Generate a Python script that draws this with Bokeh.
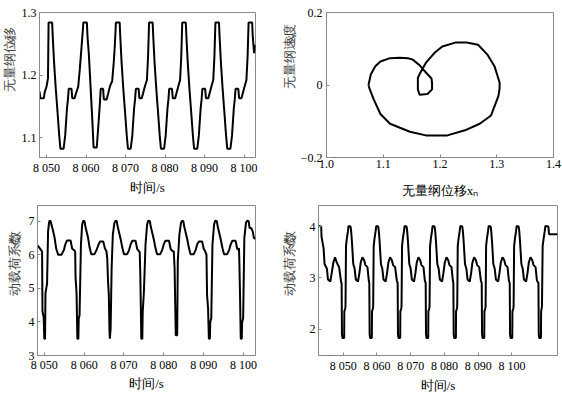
import math
from bokeh.plotting import figure
from bokeh.models import Range1d, FixedTicker, Label
from bokeh.layouts import column, row
from bokeh.embed import file_html
from bokeh.resources import INLINE

FONT = "Liberation Serif"

# ---------------- data ----------------
time_ticks = [8050, 8060, 8070, 8080, 8090, 8100]
time_tick_labels = ["8 050", "8 060", "8 070", "8 080", "8 090", "8 100"]

# (a) dimensionless displacement vs time
t_a = [8048.2, 8048.4, 8049.3, 8049.5, 8050.0, 8050.35, 8050.5, 8051.4, 8051.55, 8051.9,
       8052.3, 8052.75, 8053.2, 8053.5, 8054.3, 8054.7, 8055.15, 8055.4, 8055.6, 8056.3,
       8056.5, 8057.1, 8057.4, 8058.0, 8058.4, 8058.85, 8059.2, 8059.3, 8060.2, 8060.35,
       8060.7, 8061.1, 8061.5, 8061.9, 8062.7, 8063.0, 8063.5, 8063.7, 8064.3, 8064.5,
       8065.2, 8065.5, 8066.1, 8066.6, 8067.0, 8067.3, 8067.55, 8068.5, 8068.65, 8069.0,
       8069.4, 8069.85, 8070.3, 8070.6, 8071.3, 8071.7, 8072.15, 8072.4, 8072.6, 8073.3,
       8073.5, 8074.1, 8074.4, 8074.9, 8075.4, 8075.7, 8075.95, 8076.85, 8077.0, 8077.35,
       8077.75, 8078.2, 8078.65, 8078.95, 8079.75, 8080.15, 8080.6, 8080.85, 8081.05, 8081.75,
       8081.95, 8082.55, 8082.85, 8083.35, 8083.8, 8084.1, 8084.35, 8085.25, 8085.4, 8085.75,
       8086.15, 8086.6, 8087.05, 8087.35, 8088.15, 8088.55, 8089.0, 8089.25, 8089.45, 8090.15,
       8090.35, 8090.95, 8091.25, 8091.75, 8092.2, 8092.5, 8092.75, 8093.65, 8093.8, 8094.15,
       8094.55, 8095.0, 8095.45, 8095.75, 8096.55, 8096.95, 8097.4, 8097.65, 8097.85, 8098.55,
       8098.75, 8099.35, 8099.65, 8100.15, 8100.6, 8100.9, 8101.15, 8102.05, 8102.2, 8102.55,
       8102.9]
x_a = [1.174, 1.163, 1.163, 1.172, 1.182, 1.195, 1.284, 1.284, 1.262, 1.219,
       1.180, 1.142, 1.103, 1.082, 1.082, 1.103, 1.146, 1.161, 1.178, 1.178,
       1.163, 1.163, 1.170, 1.181, 1.209, 1.245, 1.274, 1.284, 1.284, 1.262,
       1.233, 1.185, 1.137, 1.084, 1.084, 1.110, 1.155, 1.178, 1.178, 1.161,
       1.161, 1.168, 1.183, 1.190, 1.220, 1.250, 1.284, 1.284, 1.262, 1.219,
       1.180, 1.142, 1.103, 1.082, 1.082, 1.103, 1.146, 1.161, 1.178, 1.178,
       1.163, 1.163, 1.170, 1.182, 1.192, 1.230, 1.284, 1.284, 1.262, 1.219,
       1.180, 1.142, 1.103, 1.082, 1.082, 1.103, 1.146, 1.161, 1.178, 1.178,
       1.163, 1.163, 1.170, 1.182, 1.192, 1.230, 1.284, 1.284, 1.262, 1.219,
       1.180, 1.142, 1.103, 1.082, 1.082, 1.103, 1.146, 1.161, 1.178, 1.178,
       1.163, 1.163, 1.170, 1.182, 1.192, 1.230, 1.284, 1.284, 1.262, 1.219,
       1.180, 1.142, 1.103, 1.082, 1.082, 1.103, 1.146, 1.161, 1.178, 1.178,
       1.163, 1.163, 1.170, 1.182, 1.192, 1.230, 1.284, 1.284, 1.262, 1.235,
       1.248]

# (b) phase portrait
x_b = [1.074, 1.078, 1.086, 1.095, 1.112, 1.129, 1.144, 1.152, 1.163, 1.176,
       1.185, 1.186, 1.186, 1.178, 1.164, 1.161, 1.161, 1.166, 1.175, 1.190,
       1.204, 1.227, 1.247, 1.267, 1.284, 1.296, 1.305, 1.305, 1.303, 1.290,
       1.270, 1.244, 1.213, 1.175, 1.147, 1.112, 1.095, 1.083, 1.076, 1.074]
v_b = [0.000, 0.029, 0.052, 0.065, 0.074, 0.075, 0.074, 0.070, 0.056, 0.033,
       0.018, 0.005, -0.012, -0.025, -0.027, -0.012, 0.020, 0.036, 0.061, 0.088,
       0.106, 0.117, 0.117, 0.111, 0.083, 0.052, 0.007, -0.010, -0.030, -0.084,
       -0.107, -0.125, -0.139, -0.139, -0.129, -0.107, -0.080, -0.039, -0.011, 0.000]

# (c) dynamic load coefficient vs time
t_c = [8048.3, 8048.7, 8049.2, 8049.45,
       8049.55, 8049.85, 8050.0, 8050.2, 8050.3, 8050.7, 8050.95, 8051.2, 8051.35, 8051.6,
       8051.8, 8052.2, 8052.6, 8053.0, 8053.5, 8054.3, 8054.9, 8055.3, 8055.7, 8056.6,
       8057.0, 8057.5, 8057.75,
       8057.85, 8058.1, 8058.3, 8058.55, 8058.65, 8058.85, 8059.2, 8059.5, 8059.8, 8060.1,
       8060.3, 8060.6, 8061.0, 8061.4, 8061.8, 8062.6, 8063.1, 8063.6, 8064.0, 8064.8,
       8065.2, 8065.6, 8065.8,
       8066.0, 8066.2, 8066.35, 8066.45, 8066.65, 8066.9, 8067.2, 8067.6, 8067.9, 8068.2,
       8068.4, 8068.8, 8069.2, 8069.6, 8070.0, 8070.8, 8071.3, 8071.7, 8072.1, 8072.9,
       8073.3, 8073.7, 8073.95,
       8074.1, 8074.35, 8074.6, 8074.7, 8075.0, 8075.4, 8075.8, 8076.1, 8076.5, 8076.7,
       8077.1, 8077.5, 8077.9, 8078.3, 8079.1, 8079.6, 8080.0, 8080.4, 8081.3, 8081.7,
       8082.1, 8082.5,
       8082.7, 8083.0, 8083.35, 8083.5, 8083.9, 8084.3, 8084.6, 8084.9, 8085.1, 8085.5,
       8085.9, 8086.3, 8086.7, 8087.5, 8088.0, 8088.4, 8088.8, 8089.6, 8090.0, 8090.4,
       8090.7,
       8090.85, 8091.1, 8091.3, 8091.55, 8091.65, 8091.9, 8092.2, 8092.6, 8092.9, 8093.3,
       8093.5, 8093.9, 8094.3, 8094.7, 8095.1, 8095.9, 8096.4, 8096.8, 8097.2, 8098.0,
       8098.4, 8098.7, 8098.85,
       8098.95, 8099.1, 8099.3, 8099.55, 8099.65, 8099.9, 8100.2, 8100.6, 8100.9, 8101.3,
       8101.5, 8101.9, 8102.3, 8102.6, 8103.0]
cd_c = [6.28, 6.22, 6.14, 6.10,
        4.32, 4.14, 3.50, 3.50, 4.86, 5.14, 6.69, 6.96, 7.02, 7.00,
        6.90, 6.72, 6.50, 6.18, 6.00, 6.00, 6.14, 6.32, 6.43, 6.43,
        6.18, 6.14, 6.10,
        5.32, 4.86, 3.50, 3.50, 4.10, 4.20, 6.30, 6.90, 7.02, 7.00,
        6.85, 6.70, 6.50, 6.20, 6.02, 6.02, 6.14, 6.30, 6.40, 6.40,
        6.20, 6.10, 5.90,
        5.20, 4.80, 3.80, 3.50, 3.80, 5.60, 6.60, 6.95, 7.02, 7.00,
        6.85, 6.65, 6.45, 6.20, 6.02, 6.02, 6.15, 6.32, 6.42, 6.42,
        6.18, 6.12, 6.08,
        5.40, 3.50, 3.50, 4.30, 4.90, 6.30, 6.90, 7.02, 7.00, 6.85,
        6.65, 6.45, 6.20, 6.02, 6.02, 6.15, 6.32, 6.42, 6.42, 6.18,
        6.12, 6.10,
        5.60, 3.60, 3.60, 5.80, 6.60, 6.95, 7.02, 7.00, 6.85, 6.65,
        6.45, 6.20, 6.02, 6.02, 6.15, 6.32, 6.40, 6.40, 6.18, 6.10,
        6.00,
        4.80, 4.40, 3.50, 3.50, 4.00, 4.10, 6.30, 6.90, 7.02, 7.00,
        6.85, 6.65, 6.45, 6.20, 6.02, 6.02, 6.15, 6.32, 6.42, 6.42,
        6.18, 6.15, 6.20,
        5.80, 4.90, 3.50, 3.50, 4.00, 4.10, 6.50, 6.95, 7.02, 7.00,
        6.80, 6.80, 6.70, 6.50, 6.48]

# (d) dynamic load coefficient vs time (second case)
t_d = [8042.7, 8043.5, 8043.6, 8044.2, 8044.5, 8045.2, 8045.5, 8046.2, 8046.6, 8047.1,
       8047.6, 8048.1, 8048.8, 8049.4, 8049.55,
       8049.65, 8049.8, 8050.3, 8050.35, 8050.6, 8050.7, 8050.85, 8051.1, 8051.4, 8051.6,
       8052.2, 8052.4, 8052.6, 8053.0, 8053.4, 8053.75, 8054.4, 8054.8, 8055.2, 8055.7,
       8056.2, 8056.6, 8057.2, 8057.6, 8057.75,
       8057.85, 8058.0, 8058.5, 8058.55, 8058.8, 8058.9, 8059.05, 8059.3, 8059.6, 8059.8,
       8060.4, 8060.6, 8060.8, 8061.2, 8061.6, 8061.95, 8062.6, 8063.0, 8063.4, 8063.9,
       8064.4, 8064.8, 8065.4, 8065.9, 8066.15,
       8066.25, 8066.4, 8066.9, 8066.95, 8067.2, 8067.3, 8067.45, 8067.7, 8068.0, 8068.2,
       8068.8, 8069.0, 8069.2, 8069.6, 8070.0, 8070.35, 8071.0, 8071.4, 8071.8, 8072.3,
       8072.8, 8073.2, 8073.8, 8074.2, 8074.45,
       8074.55, 8074.7, 8075.2, 8075.25, 8075.5, 8075.6, 8075.75, 8076.0, 8076.3, 8076.5,
       8077.1, 8077.3, 8077.5, 8077.9, 8078.3, 8078.65, 8079.3, 8079.7, 8080.1, 8080.6,
       8081.1, 8081.5, 8082.1, 8082.5, 8082.65,
       8082.75, 8082.9, 8083.4, 8083.45, 8083.7, 8083.8, 8083.95, 8084.2, 8084.5, 8084.7,
       8085.3, 8085.5, 8085.7, 8086.1, 8086.5, 8086.85, 8087.5, 8087.9, 8088.3, 8088.8,
       8089.3, 8089.7, 8090.3, 8090.8, 8091.05,
       8091.15, 8091.3, 8091.8, 8091.85, 8092.1, 8092.2, 8092.35, 8092.6, 8092.9, 8093.1,
       8093.7, 8093.9, 8094.1, 8094.5, 8094.9, 8095.25, 8095.9, 8096.3, 8096.7, 8097.2,
       8097.7, 8098.1, 8098.7, 8099.1, 8099.35,
       8099.45, 8099.6, 8100.1, 8100.15, 8100.4, 8100.5, 8100.65, 8100.9, 8101.2, 8101.4,
       8102.0, 8102.2, 8102.4, 8102.8, 8103.2, 8103.55, 8104.2, 8104.6, 8105.0, 8105.5,
       8106.0, 8106.4, 8107.0, 8107.4, 8107.85,
       8107.95, 8108.1, 8108.6, 8108.65, 8108.9, 8109.1, 8109.4, 8109.7, 8109.9, 8110.8,
       8111.0, 8113.5]
cd_d = [4.01, 4.00, 3.80, 3.58, 3.27, 3.18, 2.97, 2.93, 3.09, 3.30,
        3.40, 3.30, 3.21, 2.92, 2.90,
        1.90, 1.83, 1.83, 2.35, 2.40, 2.45, 3.62, 3.77, 3.90, 4.01,
        4.00, 3.89, 3.71, 3.27, 3.18, 2.97, 2.93, 3.09, 3.30, 3.40,
        3.35, 3.25, 3.21, 2.95, 2.90,
        1.90, 1.83, 1.83, 2.35, 2.40, 2.45, 3.62, 3.77, 3.90, 4.01,
        4.00, 3.89, 3.71, 3.27, 3.18, 2.97, 2.93, 3.09, 3.30, 3.40,
        3.35, 3.25, 3.21, 2.95, 2.90,
        1.90, 1.83, 1.83, 2.35, 2.40, 2.45, 3.62, 3.77, 3.90, 4.01,
        4.00, 3.89, 3.71, 3.27, 3.18, 2.97, 2.93, 3.09, 3.30, 3.40,
        3.35, 3.25, 3.21, 2.95, 2.90,
        1.90, 1.83, 1.83, 2.35, 2.40, 2.45, 3.62, 3.77, 3.90, 4.01,
        4.00, 3.89, 3.71, 3.27, 3.18, 2.97, 2.93, 3.09, 3.30, 3.40,
        3.35, 3.25, 3.21, 2.95, 2.90,
        1.90, 1.83, 1.83, 2.35, 2.40, 2.45, 3.62, 3.77, 3.90, 4.01,
        4.00, 3.89, 3.71, 3.27, 3.18, 2.97, 2.93, 3.09, 3.30, 3.40,
        3.35, 3.25, 3.21, 2.95, 2.90,
        1.90, 1.83, 1.83, 2.35, 2.40, 2.45, 3.62, 3.77, 3.90, 4.01,
        4.00, 3.89, 3.71, 3.27, 3.18, 2.97, 2.93, 3.09, 3.30, 3.40,
        3.35, 3.25, 3.21, 2.95, 2.90,
        1.90, 1.83, 1.83, 2.35, 2.40, 2.45, 3.62, 3.77, 3.90, 4.01,
        4.00, 3.89, 3.71, 3.27, 3.18, 2.97, 2.93, 3.09, 3.30, 3.40,
        3.35, 3.25, 3.21, 2.95, 2.90,
        1.90, 1.83, 1.83, 2.35, 2.45, 3.62, 3.77, 3.90, 4.01, 4.00,
        3.85, 3.85]

ya_ticks = [1.1, 1.2, 1.3]
ya_labels = ["1.1", "1.2", "1.3"]
xb_ticks = [1.0, 1.1, 1.2, 1.3, 1.4]
xb_labels = ["1.0", "1.1", "1.2", "1.3", "1.4"]
yb_ticks = [-0.2, 0.0, 0.2]
yb_labels = ["\u22120.2", "0", "0.2"]
yc_ticks = [3, 4, 5, 6, 7]
yd_ticks = [2, 3, 4]

GRAY = "#8a8a8a"


def make_fig(w, h, bl, br, bt, bb, xr, yr):
    p = figure(width=w, height=h,
               min_border_left=bl, min_border_right=br,
               min_border_top=bt, min_border_bottom=bb,
               x_range=Range1d(*xr), y_range=Range1d(*yr),
               output_backend="svg", toolbar_location=None)
    p.grid.visible = False
    p.outline_line_color = GRAY
    p.outline_line_width = 1
    p.background_fill_color = "white"
    p.border_fill_color = "white"
    for ax in (p.xaxis[0], p.yaxis[0]):
        ax.axis_line_color = GRAY
        ax.major_tick_in = 3
        ax.major_tick_out = 0
        ax.minor_tick_line_color = None
        ax.major_tick_line_color = GRAY
        ax.major_label_text_font = FONT
        ax.major_label_text_font_size = "12px"
        ax.major_label_text_color = "black"
        ax.axis_label_text_font = FONT
        ax.axis_label_text_font_size = "13px"
        ax.axis_label_text_font_style = "normal"
        ax.axis_label_text_color = "black"
    return p


def set_ticks(axis, ticks, labels):
    axis.ticker = FixedTicker(ticks=ticks)
    axis.major_label_overrides = {t: l for t, l in zip(ticks, labels)}


def tag(p, text):
    p.add_layout(Label(x=3, y=3, x_units="screen", y_units="screen",
                       text=text, text_font=FONT, text_font_size="12px",
                       text_baseline="top", text_align="left"))


def strip(w, h, main, sym, sub, xc, y0):
    """narrow panel that holds a rotated y-axis title with a subscript"""
    s = figure(width=w, height=h, x_range=Range1d(0, w), y_range=Range1d(0, h),
               min_border=0, x_axis_type=None, y_axis_type=None,
               output_backend="svg", toolbar_location=None)
    s.grid.visible = False
    s.outline_line_color = None
    s.background_fill_color = "white"
    s.border_fill_color = "white"
    rot = math.pi / 2
    s.add_layout(Label(x=xc, y=y0, text=main, angle=rot, text_font=FONT,
                       text_font_size="13px", text_align="left",
                       text_baseline="middle"))
    y1 = y0 + 13 * len(main)
    s.add_layout(Label(x=xc, y=y1, text=sym, angle=rot, text_font=FONT,
                       text_font_size="13px", text_align="left",
                       text_baseline="middle", text_font_style="italic"))
    y2 = y1 + (8.5 if sym == "C" else 6.0)
    s.add_layout(Label(x=xc + 3, y=y2, text=sub, angle=rot, text_font=FONT,
                       text_font_size="9px", text_align="left",
                       text_baseline="middle"))
    return s


# (a)
pa = make_fig(262, 200, 18, 25, 4, 36, (8048.2, 8102.9), (1.068, 1.3))
pa.line(t_a, x_a, line_color="black", line_width=2)
set_ticks(pa.xaxis[0], time_ticks, time_tick_labels)
set_ticks(pa.yaxis[0], ya_ticks, ya_labels)
pa.xaxis[0].axis_label = "时间/s"
pa.xaxis[0].major_label_standoff = 3
pa.xaxis[0].axis_label_standoff = 2
pa.yaxis[0].major_label_standoff = 3
tag(pa, "(a)")
sa = strip(18, 200, "无量纲位移", "x", "n", 9, 91)

# (b)
pb = make_fig(265, 200, 28, 9, 12, 41, (1.0, 1.4), (-0.2, 0.2))
pb.line(x_b, v_b, line_color="black", line_width=2)
set_ticks(pb.xaxis[0], xb_ticks, xb_labels)
set_ticks(pb.yaxis[0], yb_ticks, yb_labels)
pb.xaxis[0].axis_label = "无量纲位移x\u2099"
pb.xaxis[0].major_label_standoff = 2
pb.xaxis[0].axis_label_standoff = 12
pb.yaxis[0].major_label_standoff = 4
tag(pb, "(b)")
sb = strip(17, 200, "无量纲速度", "\u1e8b", "n", 9, 95)

# (c)
pc = make_fig(258, 195, 15, 25, 5, 30, (8048.3, 8103.0), (3.0, 7.47))
pc.line(t_c, cd_c, line_color="black", line_width=2)
set_ticks(pc.xaxis[0], time_ticks, time_tick_labels)
set_ticks(pc.yaxis[0], yc_ticks, [str(v) for v in yc_ticks])
pc.xaxis[0].axis_label = "时间/s"
pc.xaxis[0].major_label_standoff = 2
pc.xaxis[0].axis_label_standoff = 1
pc.yaxis[0].major_label_standoff = 3
tag(pc, "(c)")
sc = strip(22, 195, "动载荷系数", "C", "d", 14, 78)

# (d)
pd_ = make_fig(256, 195, 11, 5, 5, 32, (8042.7, 8113.5), (1.49, 4.41))
pd_.line(t_d, cd_d, line_color="black", line_width=2)
set_ticks(pd_.xaxis[0], time_ticks, time_tick_labels)
set_ticks(pd_.yaxis[0], yd_ticks, [str(v) for v in yd_ticks])
pd_.xaxis[0].axis_label = "时间/s"
pd_.xaxis[0].major_label_standoff = 3
pd_.xaxis[0].axis_label_standoff = 2
pd_.yaxis[0].major_label_standoff = 3
tag(pd_, "(d)")
sd = strip(26, 195, "动载荷系数", "C", "d", 9, 77)

layout = column(row(sa, pa, sb, pb), row(sc, pc, sd, pd_))
open("out.html", "w").write(file_html(layout, INLINE))
